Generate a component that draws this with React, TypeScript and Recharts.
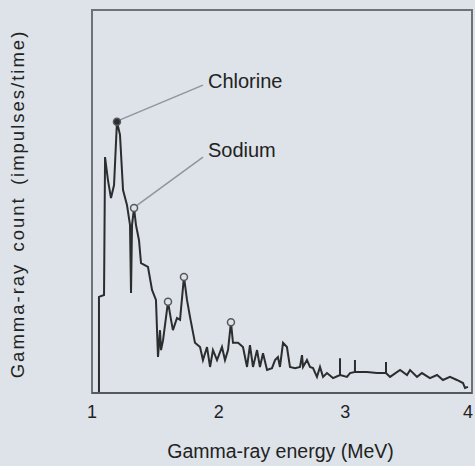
import {
  ComposedChart,
  Line,
  Scatter,
  XAxis,
  YAxis,
  ReferenceLine,
  ReferenceDot,
  ReferenceArea
} from "recharts";

// gamma-ray spectrum, energy in MeV, count in arbitrary units (0-100)
const energy = [
  1.055, 1.055, 1.095, 1.103, 1.126, 1.15, 1.174, 1.197, 1.221, 1.245,
  1.276, 1.3, 1.308, 1.316, 1.332, 1.347, 1.371, 1.387, 1.442, 1.474,
  1.505, 1.521, 1.537, 1.545, 1.561, 1.6, 1.624, 1.639, 1.671, 1.695,
  1.726, 1.75, 1.774, 1.813, 1.853, 1.876, 1.908, 1.932, 1.955, 1.987,
  2.026, 2.05, 2.074, 2.097, 2.113, 2.153, 2.192, 2.224, 2.247, 2.271,
  2.303, 2.326, 2.35, 2.382, 2.421, 2.445, 2.468, 2.484, 2.508, 2.539,
  2.563, 2.603, 2.642, 2.658, 2.666, 2.697, 2.721, 2.745, 2.776, 2.8,
  2.824, 2.855, 2.903, 2.958, 2.958, 2.958, 3.013, 3.037, 3.076, 3.076,
  3.076, 3.171, 3.25, 3.321, 3.321, 3.321, 3.353, 3.432, 3.487, 3.511,
  3.566, 3.605, 3.668, 3.724, 3.771, 3.826, 3.881, 3.929, 3.945, 3.968
];
const counts = [
  0, 25.1, 25.6, 61.6, 55.6, 50.9, 54.3, 70.8, 67.4, 53.0,
  49.1, 43.9, 26.1, 43.9, 48.3, 43.9, 39.9, 33.9, 32.9, 26.9,
  24.3, 9.4, 16.4, 11.2, 13.8, 23.8, 19.1, 16.4, 19.6, 19.1,
  30.3, 24.3, 19.8, 13.1, 12.0, 8.6, 12.0, 6.8, 11.2, 8.6,
  12.0, 8.6, 11.2, 18.5, 13.1, 13.1, 12.0, 6.8, 12.5, 6.8,
  11.2, 6.8, 10.4, 6.0, 6.5, 8.6, 9.4, 6.8, 13.1, 12.0,
  6.8, 6.5, 6.8, 9.9, 6.8, 8.6, 6.8, 6.5, 4.2, 6.8,
  4.2, 5.2, 3.9, 4.7, 9.1, 4.7, 4.2, 5.2, 5.5, 8.6,
  5.5, 5.5, 5.2, 5.2, 8.1, 5.2, 4.2, 6.0, 4.7, 6.0,
  4.2, 5.2, 3.9, 4.7, 3.4, 4.2, 3.4, 2.6, 1.3, 1.6
];

// marked peaks
const peakEnergy = [1.197, 1.332, 1.6, 1.726, 2.097];
const peakCounts = [70.8, 48.3, 23.8, 30.3, 18.5];
const peakFilled = [true, false, false, false, false];

const xTicks = [1, 2, 3, 4];

const spectrum = energy.map((e, i) => ({ e, c: counts[i] }));
const peaks = peakEnergy.map((e, i) => ({ e, c: peakCounts[i], filled: peakFilled[i] }));

const BG = "#dde3e8";
const INK = "#2b2d2f";
const FONT = "'Liberation Sans', Arial, sans-serif";

function PeakMark(props: any) {
  const { cx, cy, payload } = props;
  return (
    <circle
      cx={cx}
      cy={cy}
      r={3.5}
      fill={payload.filled ? INK : BG}
      stroke="#55595c"
      strokeWidth={1.5}
    />
  );
}

function EnergyTick(props: any) {
  const { x, y, payload, index } = props;
  const last = index === xTicks.length - 1;
  return (
    <text
      x={last ? x + 2 : x}
      y={y + 17}
      textAnchor={last ? "end" : "middle"}
      fontSize={18}
      fontFamily={FONT}
      fill="#222"
    >
      {payload.value}
    </text>
  );
}

export default function App() {
  return (
    <div
      style={{
        position: "absolute",
        left: 0,
        top: 0,
        width: 475,
        height: 466,
        background: BG,
        fontFamily: FONT
      }}
    >
      <ComposedChart
        width={475}
        height={466}
        margin={{ top: 10, right: 3, bottom: 30, left: 92 }}
      >
        <XAxis
          type="number"
          dataKey="e"
          domain={[1, 4]}
          ticks={xTicks}
          height={43}
          tickLine={false}
          axisLine={{ stroke: "#55595c", strokeWidth: 2 }}
          tick={<EnergyTick />}
          allowDataOverflow
        />
        <YAxis type="number" dataKey="c" domain={[0, 100]} hide />
        <ReferenceArea
          x1={1}
          x2={4}
          y1={0}
          y2={100}
          fill="none"
          stroke="#6d7276"
          strokeWidth={2}
        />
        <ReferenceLine
          segment={[{ x: 1.221, y: 71.3 }, { x: 1.876, y: 80.4 }]}
          stroke="#8e969b"
          strokeWidth={1.5}
        />
        <ReferenceLine
          segment={[{ x: 1.347, y: 48.8 }, { x: 1.876, y: 61.6 }]}
          stroke="#8e969b"
          strokeWidth={1.5}
        />
        <ReferenceDot
          x={1.876}
          y={81.5}
          r={0}
          stroke="none"
          label={{ value: "Chlorine", position: "right", offset: 5, fontSize: 20, fill: "#222", fontFamily: FONT }}
        />
        <ReferenceDot
          x={1.876}
          y={63.4}
          r={0}
          stroke="none"
          label={{ value: "Sodium", position: "right", offset: 5, fontSize: 20, fill: "#222", fontFamily: FONT }}
        />
        <Line
          data={spectrum}
          dataKey="c"
          type="linear"
          stroke={INK}
          strokeWidth={2}
          dot={false}
          isAnimationActive={false}
        />
        <Scatter
          data={peaks}
          dataKey="c"
          shape={<PeakMark />}
          isAnimationActive={false}
        />
      </ComposedChart>
      <div
        style={{
          position: "absolute",
          left: 0,
          top: 440,
          width: 561,
          textAlign: "center",
          fontSize: 19.5,
          color: "#222"
        }}
      >
        Gamma-ray energy (MeV)
      </div>
      <div
        style={{
          position: "absolute",
          left: 18,
          top: 204,
          transform: "translate(-50%, -50%) rotate(-90deg)",
          whiteSpace: "nowrap",
          fontSize: 18.5,
          letterSpacing: 2,
          wordSpacing: 4,
          color: "#222"
        }}
      >
        Gamma-ray count (impulses/time)
      </div>
    </div>
  );
}
